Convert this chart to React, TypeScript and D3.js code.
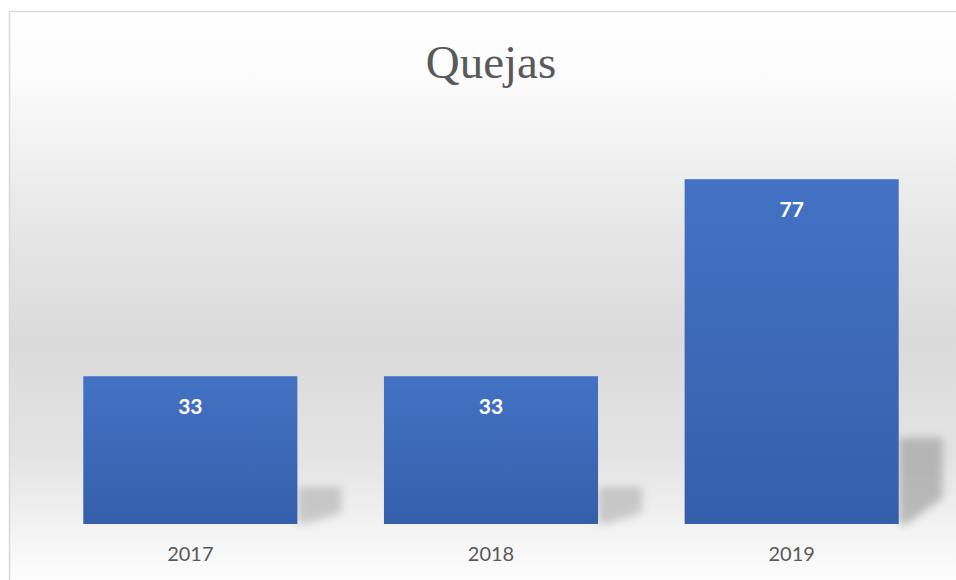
import React from "react";
import * as d3 from "d3";

const categories = ["2017", "2018", "2019"];
const values = [33, 33, 77];
const title = "Quejas";

const W = 956;
const H = 580;

export default function App() {
  const x = d3
    .scaleBand<string>()
    .domain(categories)
    .range([40, 942])
    .paddingInner(0.288)
    .paddingOuter(0.144);
  const y = d3.scaleLinear().domain([0, 90]).range([524, 121]);
  const base = y(0);
  const bw = x.bandwidth();

  return (
    <svg
      width={W}
      height={H}
      style={{ position: "absolute", left: 0, top: 0 }}
      xmlns="http://www.w3.org/2000/svg"
    >
      <defs>
        <linearGradient id="bg" x1="0" y1="0" x2="0" y2="1">
          <stop offset="0" stopColor="#ffffff" />
          <stop offset="0.1" stopColor="#fcfcfc" />
          <stop offset="0.33" stopColor="#e9e9e9" />
          <stop offset="0.56" stopColor="#dadada" />
          <stop offset="0.76" stopColor="#e4e4e4" />
          <stop offset="0.9" stopColor="#f6f6f6" />
          <stop offset="1" stopColor="#ffffff" />
        </linearGradient>
        <linearGradient id="bar" x1="0" y1="0" x2="0" y2="1">
          <stop offset="0" stopColor="#4472c4" />
          <stop offset="1" stopColor="#355fab" />
        </linearGradient>
        <filter id="blur" x="-50%" y="-50%" width="200%" height="200%">
          <feGaussianBlur stdDeviation="4" />
        </filter>
      </defs>
      <rect x={0} y={0} width={W} height={H} fill="#ffffff" />
      <rect
        x={9.5}
        y={11.5}
        width={W + 10}
        height={H + 10}
        fill="url(#bg)"
        stroke="#d9d9d9"
        strokeWidth={1.5}
      />
      <text
        x={491}
        y={78}
        textAnchor="middle"
        fontFamily="'Liberation Serif', 'Times New Roman', serif"
        fontSize={47}
        fill="#595959"
      >
        {title}
      </text>
      {categories.map((c, i) => {
        const x0 = x(c)!;
        const top = y(values[i]);
        const h = base - top;
        const sh = h * 0.25;
        const r = x0 + bw;
        const pts = [
          [r, base - sh],
          [r + 44, base - sh],
          [r + 44, base - sh * 0.3],
          [r + 8, base],
          [r, base],
        ]
          .map((p) => p.join(","))
          .join(" ");
        return (
          <g key={c}>
            <polygon
              points={pts}
              fill="#8e8e8e"
              opacity={h > 250 ? 0.55 : 0.4}
              filter="url(#blur)"
            />
            <rect x={x0} y={top} width={bw} height={h} fill="url(#bar)" />
            <text
              x={x0 + bw / 2}
              y={top + 38}
              textAnchor="middle"
              fontFamily="Lato, 'Open Sans', sans-serif"
              fontWeight="bold"
              fontSize={21}
              fill="#ffffff"
            >
              {values[i]}
            </text>
            <text
              x={x0 + bw / 2}
              y={561}
              textAnchor="middle"
              fontFamily="Lato, 'Open Sans', sans-serif"
              fontSize={20}
              fill="#595959"
            >
              {c}
            </text>
          </g>
        );
      })}
    </svg>
  );
}
